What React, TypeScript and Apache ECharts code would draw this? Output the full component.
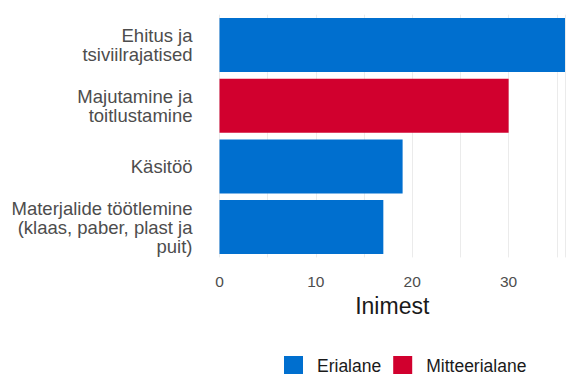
import React, { useEffect, useRef } from "react";
import * as echarts from "echarts";

const categories = [
  "Ehitus ja\ntsiviilrajatised",
  "Majutamine ja\ntoitlustamine",
  "Käsitöö",
  "Materjalide töötlemine\n(klaas, paber, plast ja\npuit)",
];
const erialane: (number | string)[] = [36, "-", 19, 17];
const mitteerialane: (number | string)[] = ["-", 30, "-", "-"];
const xTicks = [0, 10, 20, 30];
const axisName = "Inimest";
const seriesNames = ["Erialane", "Mitteerialane"];

const FONT = "Liberation Sans, Arial, sans-serif";

export default function App() {
  const ref = useRef<HTMLDivElement>(null);
  useEffect(() => {
    if (!ref.current) return;
    const chart = echarts.init(ref.current, undefined, { renderer: "svg" });
    chart.setOption({
      animation: false,
      textStyle: { fontFamily: FONT },
      grid: { left: 219.5, right: 0, top: 14.7, height: 242.7, containLabel: false },
      xAxis: {
        type: "value",
        min: 0,
        max: 35.85,
        interval: 5,
        name: axisName,
        nameLocation: "middle",
        nameGap: 35,
        nameTextStyle: { fontSize: 23, color: "#1a1a1a", fontFamily: FONT },
        axisLine: { show: false },
        axisTick: { show: false },
        axisLabel: {
          fontSize: 15.5,
          color: "#4d4d4d",
          margin: 16,
          formatter: (v: number) => (xTicks.includes(v) ? String(v) : ""),
        },
        splitLine: { show: true, lineStyle: { color: "#ebebeb", width: 1 } },
      },
      yAxis: {
        type: "category",
        inverse: true,
        data: categories,
        axisLine: { show: false },
        axisTick: { show: false },
        axisLabel: {
          fontSize: 18.5,
          lineHeight: 19,
          color: "#4d4d4d",
          margin: 27,
          align: "right",
        },
        splitLine: { show: false },
      },
      legend: {
        data: seriesNames,
        left: 279,
        top: 351,
        itemWidth: 19,
        itemHeight: 19,
        itemGap: 12,
        icon: "rect",
        textStyle: { fontSize: 17.5, lineHeight: 19, color: "#1a1a1a", fontFamily: FONT, padding: [0, 0, 0, 9] },
      },
      series: [
        {
          name: seriesNames[0],
          type: "bar",
          stack: "a",
          data: erialane,
          barWidth: "89%",
          itemStyle: { color: "#006fcf" },
        },
        {
          name: seriesNames[1],
          type: "bar",
          stack: "a",
          data: mitteerialane,
          barWidth: "89%",
          itemStyle: { color: "#d1002e" },
        },
      ],
    });
    return () => chart.dispose();
  }, []);
  return <div ref={ref} style={{ width: 568, height: 374, position: "absolute", left: 0, top: 0 }} />;
}
